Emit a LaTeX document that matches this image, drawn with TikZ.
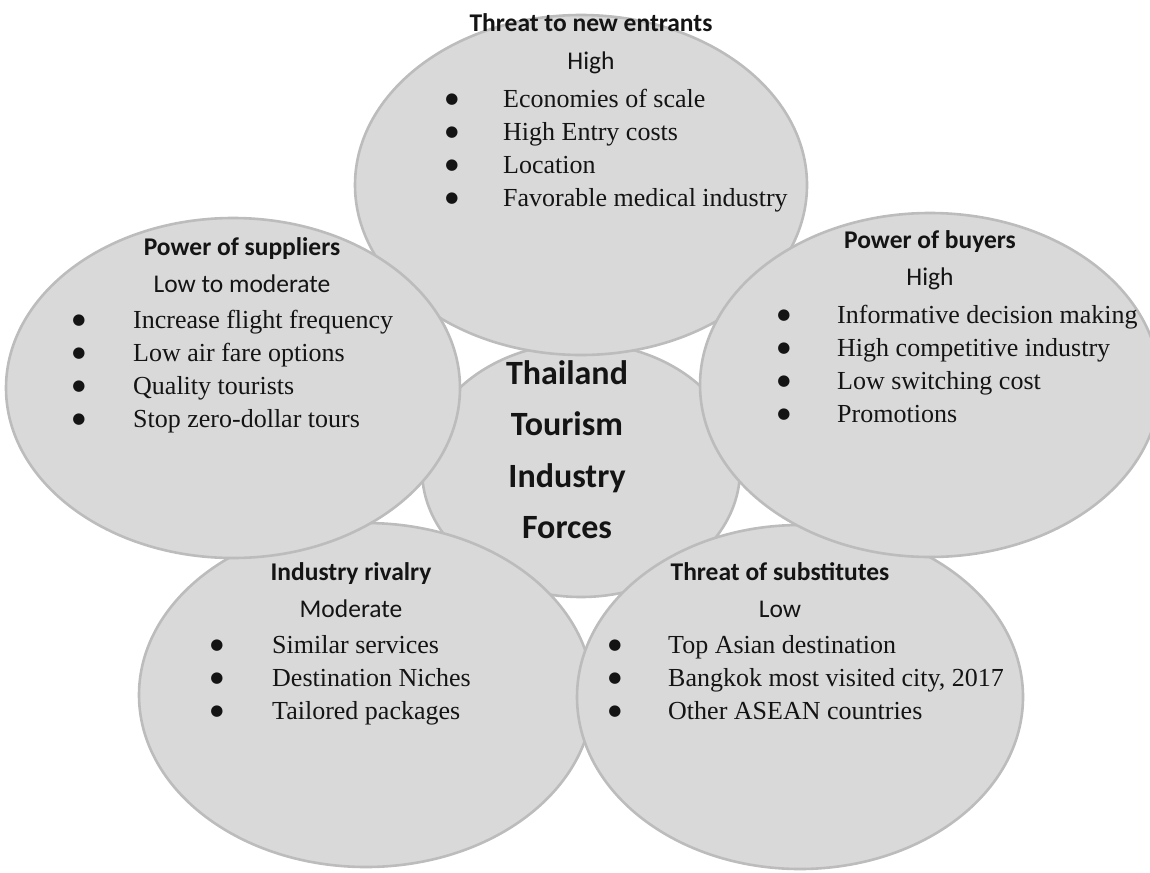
\documentclass[tikz,border=0pt]{standalone}
\usepackage{fontspec}
\setmainfont{Liberation Serif}
\newfontfamily\carlito{Carlito}
\newfontfamily\dejavu{DejaVu Sans}
\usetikzlibrary{shapes.geometric}
\definecolor{ellfill}{HTML}{D9D9D9}
\definecolor{elldraw}{HTML}{BCBCBC}
\definecolor{ink}{HTML}{141414}
\begin{document}
\begin{tikzpicture}[x=1pt,y=-1pt,
  force/.style={ellipse, draw=elldraw, fill=ellfill, line width=2.6pt, inner sep=0pt},
  head/.style={anchor=base, inner sep=0pt, text=ink, font=\carlito\bfseries\fontsize{25.5}{30}\selectfont},
  level/.style={anchor=base, inner sep=0pt, text=ink, font=\carlito\fontsize{25.5}{30}\selectfont},
  item/.style={anchor=base west, inner sep=0pt, text=ink, font=\fontsize{26}{30}\selectfont},
  dot/.style={anchor=base, inner sep=0pt, yshift=3.5pt, text=ink, font=\dejavu\fontsize{15}{18}\selectfont},
  core/.style={anchor=base, inner sep=0pt, text=ink, font=\carlito\bfseries\fontsize{34}{40}\selectfont}]
\clip (0,0) rectangle (1150,872);
% ellipses
\node[force, minimum width=318pt, minimum height=254pt] (core) at (581,470) {};
\node[force, minimum width=452pt, minimum height=340pt] (entr) at (581,185) {};
\node[force, minimum width=454pt, minimum height=344pt] (riv) at (366,695) {};
\node[force, minimum width=446pt, minimum height=344pt] (subs) at (800,697) {};
\node[force, minimum width=454pt, minimum height=340pt] (supp) at (233,388) {};
\node[force, minimum width=460pt, minimum height=344pt] (buy) at (930,385) {};
% centre
\node[core] (c1) at (567,384) {Thailand};
\node[core] (c2) at (567,435.5) {Tourism};
\node[core] (c3) at (567,487) {Industry};
\node[core] (c4) at (567,538.5) {Forces};
% threat to new entrants
\node[head] (h1) at (591,32) {Threat to new entrants};
\node[level] (l1) at (591,70) {High};
\foreach \t [count=\i] in {Economies of scale, High Entry costs, Location, Favorable medical industry}{
  \node[dot] (b1d\i) at (452,{107+33*(\i-1)}) {●};
  \node[item] (b1t\i) at (503,{107+33*(\i-1)}) {\t};
}
% power of suppliers
\node[head] (h2) at (242,255) {Power of suppliers};
\node[level] (l2) at (242,292) {Low to moderate};
\foreach \t [count=\i] in {Increase flight frequency, Low air fare options, Quality tourists, Stop zero-dollar tours}{
  \node[dot] (b2d\i) at (79,{328+33*(\i-1)}) {●};
  \node[item] (b2t\i) at (133,{328+33*(\i-1)}) {\t};
}
% power of buyers
\node[head] (h3) at (930,248) {Power of buyers};
\node[level] (l3) at (930,285) {High};
\foreach \t [count=\i] in {Informative decision making, High competitive industry, Low switching cost, Promotions}{
  \node[dot] (b3d\i) at (784,{323+33*(\i-1)}) {●};
  \node[item] (b3t\i) at (837,{323+33*(\i-1)}) {\t};
}
% industry rivalry
\node[head] (h4) at (351,580) {Industry rivalry};
\node[level] (l4) at (351,617) {Moderate};
\foreach \t [count=\i] in {Similar services, Destination Niches, Tailored packages}{
  \node[dot] (b4d\i) at (217,{653+33*(\i-1)}) {●};
  \node[item] (b4t\i) at (272,{653+33*(\i-1)}) {\t};
}
% threat of substitutes
\node[head] (h5) at (780,580) {Threat of substitutes};
\node[level] (l5) at (780,617) {Low};
\foreach \t [count=\i] in {Top Asian destination, {Bangkok most visited city, 2017}, Other ASEAN countries}{
  \node[dot] (b5d\i) at (615,{653+33*(\i-1)}) {●};
  \node[item] (b5t\i) at (668,{653+33*(\i-1)}) {\t};
}
\end{tikzpicture}
\end{document}
